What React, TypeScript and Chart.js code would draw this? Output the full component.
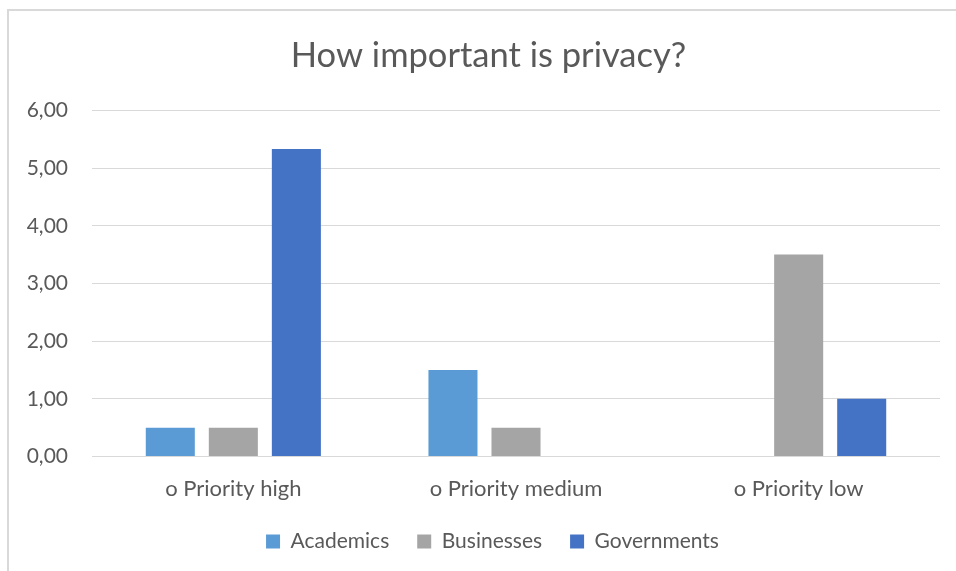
import React, { useEffect, useRef } from "react";
import { Chart, registerables } from "chart.js";

Chart.register(...registerables);

const titleText = "How important is privacy?";
const categories = ["o Priority high", "o Priority medium", "o Priority low"];
const seriesNames = ["Academics", "Businesses", "Governments"];
const academics = [0.5, 1.5, 0];
const businesses = [0.5, 0.5, 3.5];
const governments = [5.33, 0, 1.0];
const yMin = 0;
const yMax = 6;
const yStep = 1;

const colors = ["#5B9BD5", "#A5A5A5", "#4472C4"];
const textColor = "#595959";
const gridColor = "#D9D9D9";
const fontFamily = "Lato, 'Open Sans', sans-serif";

const shiftPlugin = {
  id: "shiftBlocks",
  afterLayout(chart: any) {
    const l = chart.legend;
    if (l) {
      l.left += 18;
      l.right += 18;
    }
    const t = chart.titleBlock;
    if (t) {
      t.left += 14;
      t.right += 14;
    }
  },
};

export default function App() {
  const ref = useRef<HTMLCanvasElement | null>(null);

  useEffect(() => {
    if (!ref.current) return;
    const values = [academics, businesses, governments];
    const chart = new Chart(ref.current, {
      type: "bar",
      data: {
        labels: categories,
        datasets: seriesNames.map((name, i) => ({
          label: name,
          data: values[i],
          backgroundColor: colors[i],
          borderWidth: 0,
          categoryPercentage: 0.669,
          barPercentage: 0.778,
        })),
      },
      plugins: [shiftPlugin],
      options: {
        animation: false,
        responsive: false,
        maintainAspectRatio: false,
        layout: { padding: { left: 0, right: 16, top: 0, bottom: 9 } },
        plugins: {
          tooltip: { enabled: false },
          title: {
            display: true,
            text: titleText,
            color: textColor,
            font: { family: fontFamily, size: 34.5, weight: "normal", lineHeight: 1.2 },
            padding: { top: 24, bottom: 34 },
          },
          legend: {
            position: "bottom",
            maxHeight: 68.5,
            labels: {
              color: textColor,
              font: { family: fontFamily, size: 21 },
              boxWidth: 14,
              boxHeight: 14,
              padding: 28,
            },
          },
        },
        scales: {
          x: {
            grid: { display: false, drawTicks: false },
            border: { display: false },
            ticks: {
              color: textColor,
              font: { family: fontFamily, size: 22, lineHeight: 1.2 },
              padding: 19,
              maxRotation: 0,
            },
            afterFit: (s: any) => {
              s.height = 46.5;
            },
          },
          y: {
            min: yMin,
            max: yMax,
            grid: { color: gridColor, lineWidth: 1, drawTicks: false },
            border: { display: false },
            ticks: {
              stepSize: yStep,
              color: textColor,
              font: { family: fontFamily, size: 21 },
              padding: 24,
              callback: (v: any) => Number(v).toFixed(2).replace(".", ","),
            },
            afterFit: (s: any) => {
              s.width = 83;
            },
          },
        },
      },
    });
    return () => chart.destroy();
  }, []);

  return (
    <div
      style={{
        position: "fixed",
        left: 7,
        top: 9,
        width: 949,
        height: 562,
        boxSizing: "border-box",
        borderLeft: "2px solid #D9D9D9",
        borderTop: "2px solid #D9D9D9",
        background: "#fff",
      }}
    >
      <canvas ref={ref} width={947} height={560} style={{ display: "block" }} />
    </div>
  );
}
